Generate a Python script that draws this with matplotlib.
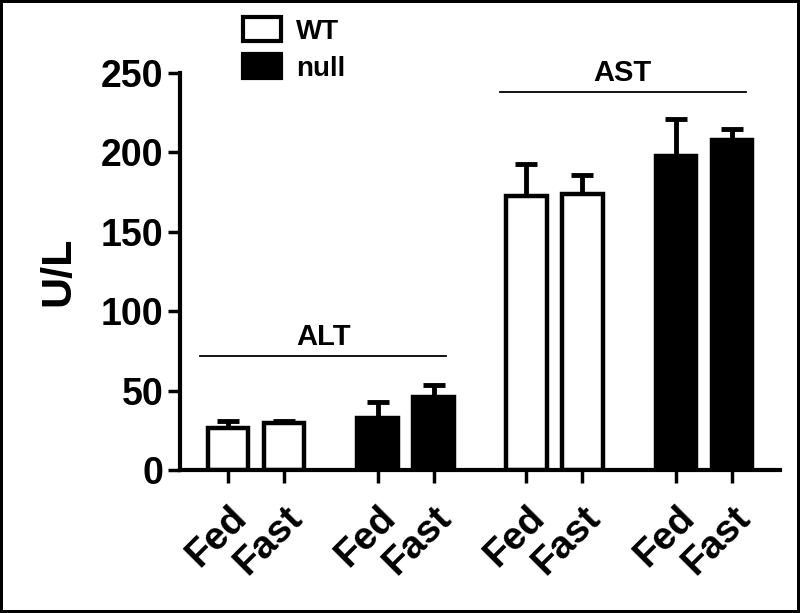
import matplotlib.pyplot as plt
from matplotlib.patches import Patch

# values
labels = ['Fed', 'Fast', 'Fed', 'Fast', 'Fed', 'Fast', 'Fed', 'Fast']
means = [26.5, 29.5, 32.5, 46, 172.5, 174, 198, 208]
errs = [4.5, 1.5, 10.5, 7.5, 20.5, 12, 23, 7]
is_null = [False, False, True, True, False, False, True, True]
groups = ['ALT', 'AST']
group_line_y = [72, 238]

plt.rcParams['font.family'] = ['Liberation Sans', 'DejaVu Sans']
plt.rcParams['font.weight'] = 'bold'

fig = plt.figure(figsize=(8, 6.13), dpi=100)
fig.patch.set_edgecolor('black')
fig.patch.set_linewidth(3)
ax = fig.add_axes([0.225, 0.2333, 0.75, 0.6476])

xpos = [0, 1, 2.67, 3.67, 5.33, 6.33, 8, 9]
colors = ['black' if n else 'white' for n in is_null]

ax.bar(xpos, means, width=0.72, color=colors, edgecolor='black', linewidth=3.2, zorder=2)
ax.errorbar(xpos, means, yerr=[[0] * len(errs), errs], fmt='none', ecolor='black',
            elinewidth=3.5, capsize=8, capthick=3.5, zorder=1)

# group lines and labels
spans = [(-0.5, 3.9), (4.85, 9.25)]
for g, (x0, x1), yl in zip(groups, spans, group_line_y):
    ax.plot([x0, x1], [yl, yl], color='black', lw=1.3, clip_on=False)
    ax.text((x0 + x1) / 2, yl + 7, g, ha='center', va='baseline', fontsize=21, fontweight='bold')

ax.set_xlim(-0.857, 9.857)
ax.set_ylim(0, 250)
ax.set_yticks([0, 50, 100, 150, 200, 250])
ax.set_xticks(xpos)
ax.set_xticklabels(labels, rotation=45, ha='right', va='top', rotation_mode='anchor')
ax.tick_params(axis='y', labelsize=27, width=2.5, length=9, pad=3)
ax.tick_params(axis='x', labelsize=28, width=2.5, length=9, pad=12)
for lab in ax.get_xticklabels() + ax.get_yticklabels():
    lab.set_fontweight('bold')

ax.set_ylabel('U/L', fontsize=31, fontweight='bold', labelpad=16)

for s in ['top', 'right']:
    ax.spines[s].set_visible(False)
for s in ['left', 'bottom']:
    ax.spines[s].set_linewidth(3)

handles = [Patch(facecolor='white', edgecolor='black', linewidth=3, label='WT'),
           Patch(facecolor='black', edgecolor='black', linewidth=3, label='null')]
fig.legend(handles=handles, loc='upper left', bbox_to_anchor=(243 / 800, 1 - 17 / 613),
           frameon=False, handlelength=1.35, handleheight=0.95, handletextpad=0.55,
           labelspacing=0.35, borderpad=0, borderaxespad=0,
           prop={'weight': 'bold', 'size': 20})

fig.savefig('out.png', dpi=100)
